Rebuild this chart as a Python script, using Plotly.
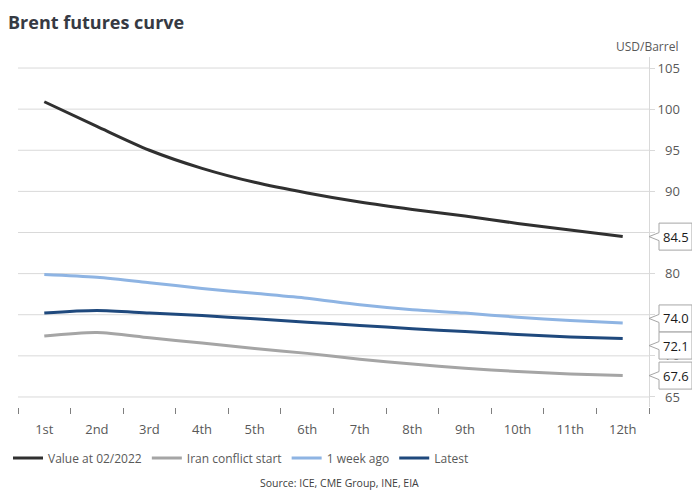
import plotly.graph_objects as go

# contract months along the curve
months = ["1st", "2nd", "3rd", "4th", "5th", "6th", "7th", "8th", "9th", "10th", "11th", "12th"]

feb_2022 = [100.9, 97.9, 95.0, 92.8, 91.1, 89.8, 88.7, 87.8, 87.0, 86.1, 85.3, 84.5]
iran_start = [72.4, 72.85, 72.2, 71.55, 70.9, 70.3, 69.6, 69.0, 68.5, 68.1, 67.8, 67.6]
week_ago = [79.9, 79.55, 78.9, 78.2, 77.6, 77.0, 76.2, 75.6, 75.2, 74.7, 74.3, 74.0]
latest = [75.2, 75.5, 75.2, 74.9, 74.5, 74.1, 73.7, 73.3, 72.95, 72.6, 72.3, 72.1]

y_ticks = [65, 70, 75, 80, 85, 90, 95, 100, 105]
# 75 and 85 sit under the callout boxes, so they carry no label
y_ticktext = ["\u200765", "\u200770", "", "\u200780", "", "\u200790", "\u200795", "100", "105"]

series = [
    ("Value at 02/2022", feb_2022, "#303030"),
    ("Iran conflict start", iran_start, "#a5a5a5"),
    ("1 week ago", week_ago, "#8eb4e3"),
    ("Latest", latest, "#1f497d"),
]

# end-of-curve callouts: (value, pixel nudge so the boxes don't overlap)
callouts = [(feb_2022[-1], 0), (week_ago[-1], 4.5), (latest[-1], -7), (iran_start[-1], 0)]

FONT = "Open Sans"
fig = go.Figure()

for name, vals, col in series:
    fig.add_trace(go.Scatter(
        x=months, y=vals, name=name, mode="lines",
        line=dict(color=col, width=3, shape="spline", smoothing=0.8),
        hoverinfo="skip"))

# gridlines across the whole plot
for t in y_ticks:
    fig.add_shape(type="line", xref="paper", x0=0, x1=1, yref="y", y0=t, y1=t,
                  line=dict(color="#d9d9d9", width=1), layer="below")

# callout boxes with a notch pointing at the axis
for val, dy in callouts:
    p = "M0,{a} L10,{b} L10,{c} L43,{c} L43,{d} L10,{d} L10,{e} Z".format(
        a=dy, b=dy + 4, c=dy + 13.5, d=dy - 13.5, e=dy - 4)
    fig.add_shape(type="path", xref="paper", xsizemode="pixel", xanchor=1,
                  yref="y", ysizemode="pixel", yanchor=val, path=p,
                  fillcolor="white", line=dict(color="#a6a6a6", width=1), layer="above")
    fig.add_annotation(x=1, xref="paper", y=val, yref="y", xshift=26.5, yshift=dy,
                       text="%.1f" % val, showarrow=False, xanchor="center", yanchor="middle",
                       font=dict(family=FONT, size=13, color="#1a1a1a"))

fig.add_annotation(x=1, xref="paper", y=1.031, yref="paper", xshift=31,
                   text="USD/Barrel", showarrow=False, xanchor="right", yanchor="middle",
                   font=dict(family=FONT, size=12, color="#595959"))
fig.add_annotation(x=0.51, xref="paper", y=-0.217, yref="paper",
                   text="Source: ICE, CME Group, INE, EIA", showarrow=False,
                   xanchor="center", yanchor="middle",
                   font=dict(family=FONT, size=10.5, color="#404040"))

# page body adds an 8px margin, so the figure is drawn 8px smaller
fig.update_layout(
    width=692, height=492,
    margin=dict(l=10, r=51, t=49, b=93, autoexpand=False),
    paper_bgcolor="white", plot_bgcolor="white",
    title=dict(text="<b>Brent futures curve</b>", x=0, xref="container", xanchor="left",
               y=0.971, yref="container", yanchor="middle",
               font=dict(family=FONT, size=18, color="#363a43")),
    font=dict(family=FONT, color="#595959"),
    showlegend=True,
    legend=dict(orientation="h", x=0, xref="container", xanchor="left",
                y=42 / 492, yref="container", yanchor="middle",
                font=dict(family=FONT, size=12, color="#595959"), itemwidth=30,
                bgcolor="rgba(0,0,0,0)"),
)

fig.update_xaxes(
    type="category", range=[-0.5, 11.5], showgrid=False, showline=False, zeroline=False,
    ticks="outside", tickson="boundaries", ticklen=6, tickcolor="#7f7f7f",
    ticklabelstandoff=13,
    tickfont=dict(family=FONT, size=13, color="#595959"))

fig.update_yaxes(
    side="right", range=[63.78, 106.34], showgrid=False, zeroline=False,
    showline=True, linecolor="#d9d9d9", linewidth=1,
    ticks="outside", ticklen=5, tickcolor="#d9d9d9",
    tickvals=y_ticks, ticktext=y_ticktext,
    tickfont=dict(family=FONT, size=13, color="#595959"))

fig.write_html("out.html")
